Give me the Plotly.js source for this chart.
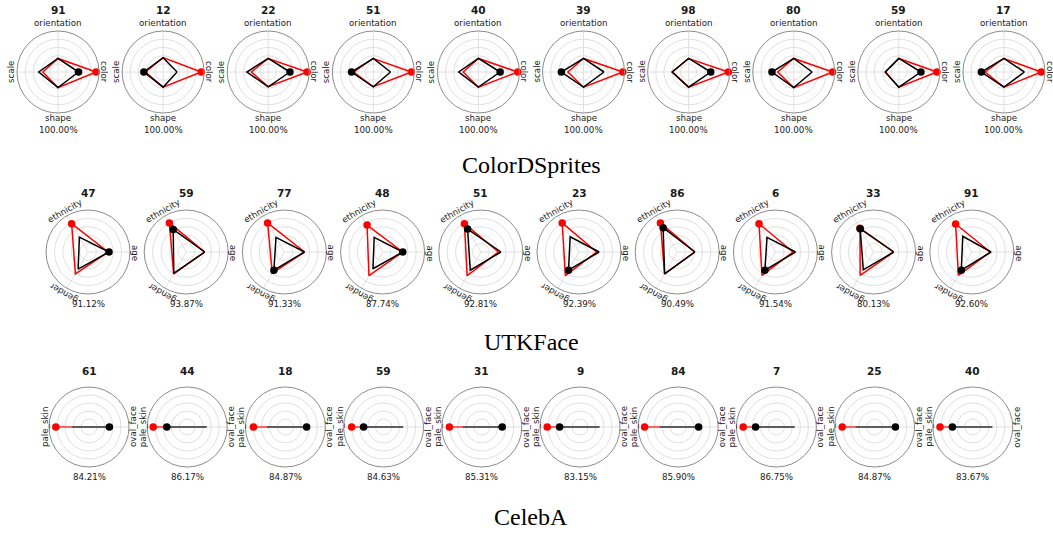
<!DOCTYPE html>
<html>
<head>
<meta charset="utf-8">
<script src="https://cdn.plot.ly/plotly-3.0.1.min.js"></script>
<style>html,body{margin:0;padding:0;background:#fff;}#chart{width:1053px;height:533px;}</style>
</head>
<body>
<div id="chart"></div>
<script>
// ---------- DATA ----------
const colorCats = ['color', 'orientation', 'scale', 'shape'];
const colorIds = ['91', '12', '22', '51', '40', '39', '98', '80', '59', '17'];
const colorAcc = ['100.00%', '100.00%', '100.00%', '100.00%', '100.00%', '100.00%', '100.00%', '100.00%', '100.00%', '100.00%'];
const colorBlack = [
  [0.50, 0.33, 0.47, 0.38], [0.34, 0.35, 0.47, 0.37], [0.53, 0.33, 0.52, 0.36], [0.42, 0.33, 0.53, 0.36],
  [0.53, 0.33, 0.48, 0.37], [0.50, 0.33, 0.54, 0.37], [0.54, 0.33, 0.40, 0.37], [0.45, 0.33, 0.53, 0.38],
  [0.54, 0.33, 0.33, 0.37], [0.50, 0.33, 0.55, 0.37]
];
const colorRed = [
  [0.93, 0.33, 0.37, 0.38], [0.93, 0.35, 0.43, 0.37], [0.95, 0.33, 0.41, 0.36], [0.93, 0.33, 0.48, 0.36],
  [0.96, 0.33, 0.37, 0.37], [0.96, 0.33, 0.38, 0.37], [0.97, 0.33, 0.40, 0.37], [0.95, 0.33, 0.39, 0.38],
  [0.93, 0.33, 0.33, 0.37], [0.91, 0.33, 0.46, 0.37]
];
const colorBlackMark = [0, 2, 0, 2, 0, 2, 0, 2, 0, 2];
const colorRedMark = [0, 0, 0, 0, 0, 0, 0, 0, 0, 0];

const utkCats = ['age', 'ethnicity', 'gender'];
const utkIds = ['47', '59', '77', '48', '51', '23', '86', '6', '33', '91'];
const utkAcc = ['91.12%', '93.87%', '91.33%', '87.74%', '92.81%', '92.39%', '90.49%', '91.54%', '80.13%', '92.60%'];
const utkBlack = [
  [0.50, 0.41, 0.47], [0.44, 0.62, 0.59], [0.48, 0.40, 0.50], [0.48, 0.40, 0.46], [0.48, 0.63, 0.50],
  [0.48, 0.42, 0.50], [0.42, 0.67, 0.60], [0.48, 0.40, 0.50], [0.48, 0.64, 0.49], [0.46, 0.43, 0.50]
];
const utkRed = [
  [0.48, 0.78, 0.60], [0.44, 0.80, 0.60], [0.48, 0.80, 0.58], [0.48, 0.74, 0.65], [0.42, 0.78, 0.65],
  [0.42, 0.80, 0.65], [0.42, 0.80, 0.60], [0.42, 0.78, 0.64], [0.48, 0.65, 0.64], [0.44, 0.77, 0.64]
];
const utkBlackMark = [0, 1, 2, 0, 1, 2, 1, 2, 1, 2];
const utkRedMark = [1, 1, 1, 1, 1, 1, 1, 1, 1, 1];

const celebCats = ['oval_face', 'pale_skin'];
const celebIds = ['61', '44', '18', '59', '31', '9', '84', '7', '25', '40'];
const celebAcc = ['84.21%', '86.17%', '84.87%', '84.63%', '85.31%', '83.15%', '85.90%', '86.75%', '84.87%', '83.67%'];
const celebBlack = [
  [0.51, 0.42], [0.49, 0.51], [0.53, 0.46], [0.49, 0.50], [0.51, 0.47],
  [0.49, 0.51], [0.51, 0.46], [0.46, 0.52], [0.52, 0.47], [0.49, 0.51]
];
const celebRed = [
  [0.35, 0.83], [0.35, 0.85], [0.35, 0.80], [0.35, 0.80], [0.35, 0.81],
  [0.35, 0.82], [0.35, 0.84], [0.35, 0.83], [0.35, 0.81], [0.35, 0.82]
];
const celebBlackMark = [0, 1, 0, 1, 0, 1, 0, 1, 0, 1];
const celebRedMark = [1, 1, 1, 1, 1, 1, 1, 1, 1, 1];

const groupTitles = ['ColorDSprites', 'UTKFace', 'CelebA'];

// ---------- LAYOUT ----------
const W = 1053, H = 533;
const FONT = 'DejaVu Sans, Verdana, sans-serif';
const TXT = '#1a1a1a';
const rows = [
  {cats: colorCats, ids: colorIds, acc: colorAcc, black: colorBlack, red: colorRed, bm: colorBlackMark, rm: colorRedMark,
   cx0: 58, dx: 105.1, cy: 72, r: 41, titleDy: -62, accDy: 58, lw: 1.5, bcol: '#000000', rcol: '#ff0000',
   labels: [
     {t: 'color', dx: 46, dy: 0, ang: 90},
     {t: 'orientation', dx: 0, dy: -49, ang: 0},
     {t: 'scale', dx: -47, dy: 0, ang: -90},
     {t: 'shape', dx: 0, dy: 46, ang: 0}
   ], groupY: 165},
  {cats: utkCats, ids: utkIds, acc: utkAcc, black: utkBlack, red: utkRed, bm: utkBlackMark, rm: utkRedMark,
   cx0: 88, dx: 98.2, cy: 252, r: 42, titleDy: -59, accDy: 52, lw: 1.5, bcol: '#000000', rcol: '#ff0000',
   labels: [
     {t: 'age', dx: 47, dy: 1, ang: 90},
     {t: 'ethnicity', dx: -23.5, dy: -40.7, ang: -30},
     {t: 'gender', dx: -24, dy: 41.6, ang: -150}
   ], groupY: 342},
  {cats: celebCats, ids: celebIds, acc: celebAcc, black: celebBlack, red: celebRed, bm: celebBlackMark, rm: celebRedMark,
   cx0: 89, dx: 98.2, cy: 427, r: 40, titleDy: -56, accDy: 50, lw: 2, bcol: '#5c5c5c', rcol: '#ff6262',
   labels: [
     {t: 'oval_face', dx: 44, dy: 0, ang: -90},
     {t: 'pale_skin', dx: -44, dy: 0, ang: -90}
   ], groupY: 517}
];

const data = [];
const layout = {
  width: W, height: H,
  margin: {l: 0, r: 0, t: 0, b: 0},
  paper_bgcolor: '#ffffff',
  showlegend: false,
  hovermode: false,
  annotations: []
};

function ann(text, x, y, size, ang, bold, family) {
  layout.annotations.push({
    text: bold ? '<b>' + text + '</b>' : text,
    xref: 'paper', yref: 'paper', x: x / W, y: 1 - y / H,
    xanchor: 'center', yanchor: 'middle', showarrow: false, textangle: ang,
    font: {family: family || FONT, size: size, color: family ? '#000000' : TXT}
  });
}

let k = 0;
rows.forEach(function (row) {
  for (let i = 0; i < 10; i++) {
    k++;
    const pid = k === 1 ? 'polar' : 'polar' + k;
    const cx = row.cx0 + i * row.dx, cy = row.cy, r = row.r;
    layout[pid] = {
      domain: {x: [(cx - r) / W, (cx + r) / W], y: [1 - (cy + r) / H, 1 - (cy - r) / H]},
      bgcolor: '#ffffff',
      angularaxis: {type: 'category', categoryorder: 'array', categoryarray: row.cats,
        direction: 'counterclockwise', rotation: 0, showticklabels: false, ticks: '',
        showline: true, linecolor: '#8c8c8c', linewidth: 1, showgrid: true, gridcolor: '#e0e0e0', gridwidth: 1},
      radialaxis: {range: [0, 1], tickmode: 'array', tickvals: [0.2, 0.4, 0.6, 0.8], showticklabels: false, ticks: '',
        showline: false, showgrid: true, gridcolor: '#e0e0e0', gridwidth: 1}
    };
    const th = row.cats.concat([row.cats[0]]);
    const rv = row.red[i].concat([row.red[i][0]]);
    const bv = row.black[i].concat([row.black[i][0]]);
    data.push({type: 'scatterpolar', subplot: pid, mode: 'lines', theta: th, r: rv,
      line: {color: row.rcol, width: row.lw}, cliponaxis: false});
    data.push({type: 'scatterpolar', subplot: pid, mode: 'lines', theta: th, r: bv,
      line: {color: row.bcol, width: row.lw}, cliponaxis: false});
    data.push({type: 'scatterpolar', subplot: pid, mode: 'markers', theta: [row.cats[row.rm[i]]], r: [row.red[i][row.rm[i]]],
      marker: {color: '#ff0000', size: 7.5}, cliponaxis: false});
    data.push({type: 'scatterpolar', subplot: pid, mode: 'markers', theta: [row.cats[row.bm[i]]], r: [row.black[i][row.bm[i]]],
      marker: {color: '#000000', size: 7.5}, cliponaxis: false});

    ann(row.ids[i], cx, cy + row.titleDy, 10.5, 0, true);
    ann(row.acc[i], cx, cy + row.accDy, 8.7, 0, false);
    row.labels.forEach(function (lb) { ann(lb.t, cx + lb.dx, cy + lb.dy, 8.7, lb.ang, false); });
  }
});
rows.forEach(function (row, j) {
  ann(groupTitles[j], 531, row.groupY, 24, 0, false, 'Liberation Serif, Times New Roman, serif');
});

Plotly.newPlot('chart', data, layout, {staticPlot: true, displayModeBar: false});
</script>
</body>
</html>
